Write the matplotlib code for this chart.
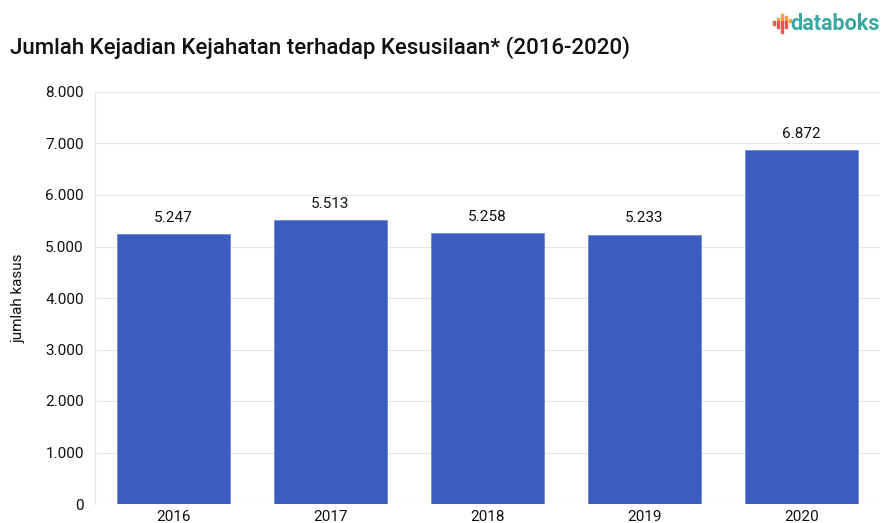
import matplotlib
matplotlib.use("Agg")
import matplotlib.pyplot as plt
from matplotlib.patches import Rectangle
from matplotlib.ticker import FuncFormatter

years = ["2016", "2017", "2018", "2019", "2020"]
cases = [5247, 5513, 5258, 5233, 6872]
yticks = [0, 1000, 2000, 3000, 4000, 5000, 6000, 7000, 8000]


def dot_thousands(v, pos=None):
    return f"{int(v):,}".replace(",", ".")


plt.rcParams['font.family'] = ['Roboto', 'DejaVu Sans']

fig = plt.figure(figsize=(8.83, 5.23), dpi=100)
ax = fig.add_axes([95 / 883, 1 - 504 / 523, 785 / 883, 412 / 523])

x = range(len(years))
bars = ax.bar(x, cases, width=0.72, color="#3b5dbf", edgecolor="#6f8ad6", linewidth=0.6, zorder=3)
for xi, v in zip(x, cases):
    ax.text(xi, v + 180, dot_thousands(v), ha="center", va="bottom", fontsize=11, color="#111111")

ax.set_xlim(-0.5, len(years) - 0.5)
ax.set_ylim(0, 8000)
ax.set_xticks(list(x))
ax.set_xticklabels(years)
ax.set_yticks(yticks)
ax.yaxis.set_major_formatter(FuncFormatter(dot_thousands))
ax.tick_params(axis="both", length=0, labelsize=11, colors="#111111")
ax.tick_params(axis="y", pad=8)
ax.tick_params(axis="x", pad=4)
ax.grid(axis="y", color="#e6e6e6", linewidth=0.8, zorder=0)
for s in ["top", "right", "bottom"]:
    ax.spines[s].set_visible(False)
ax.spines["left"].set_color("#e6e6e6")
ax.spines["left"].set_linewidth(0.8)

fig.text(18 / 883, 1 - 298 / 523, "jumlah kasus", rotation=90, ha="center", va="center",
         fontsize=11, color="#111111")
fig.text(10 / 883, 1 - 48 / 523, "Jumlah Kejadian Kejahatan terhadap Kesusilaan* (2016-2020)",
         ha="left", va="center", fontsize=16, fontweight="medium", color="#111111")

# databoks logo
fig.text(790 / 883, 1 - 24 / 523, "databoks", ha="left", va="center", fontsize=15.5,
         color="#3aa9a0", fontweight="bold")
# (x, top, split, bottom) in pixels: orange above split, red below
icon = [(773, 21, 21, 25), (777, 18, 21, 28), (781, 14, 21, 33), (785, 16, 21, 28), (789, 19, 22, 22)]
for bx, top, split, bot in icon:
    if split > top:
        fig.patches.append(Rectangle((bx / 883, 1 - split / 523), 2.2 / 883, (split - top) / 523,
                                     transform=fig.transFigure, color="#f0a040", figure=fig))
    if bot > split:
        fig.patches.append(Rectangle((bx / 883, 1 - bot / 523), 2.2 / 883, (bot - split) / 523,
                                     transform=fig.transFigure, color="#e35a55", figure=fig))

fig.savefig("out.png", dpi=100, facecolor="white")
